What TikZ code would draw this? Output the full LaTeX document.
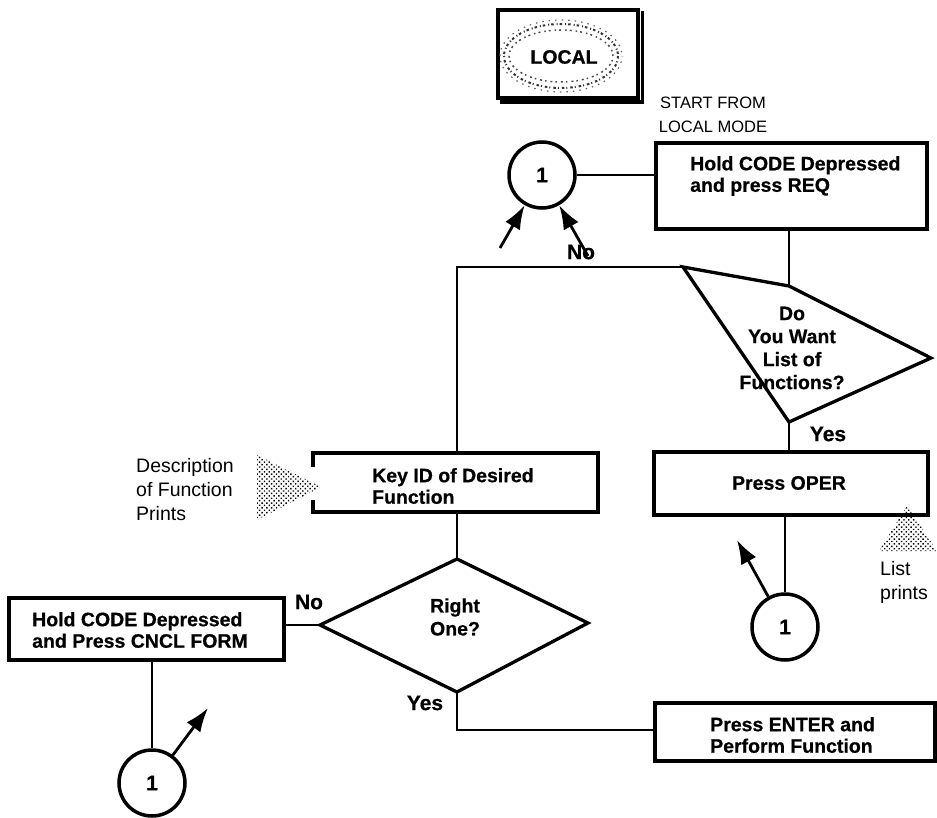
\documentclass[tikz,border=0pt]{standalone}
\usepackage{fontspec}
\setmainfont{Liberation Sans}
\newfontfamily\heavyfont[BoldFont={* Bold}, BoldFeatures={FakeBold=0.6}]{Liberation Sans}
\usetikzlibrary{arrows.meta,patterns.meta}

\tikzset{
  box/.style={draw, line width=3.2pt, inner sep=0pt},
  btxt/.style={font=\heavyfont\bfseries\fontsize{19.5}{21.5}\selectfont, align=left, inner sep=0pt},
  ctxt/.style={font=\heavyfont\bfseries\fontsize{19.5}{23}\selectfont, align=center, inner sep=0pt},
  rtxt/.style={font=\fontsize{19.5}{24}\selectfont, align=left, inner sep=0pt},
  lbl/.style={font=\heavyfont\bfseries\fontsize{21}{22}\selectfont, inner sep=0pt},
  conn/.style={line width=2.7pt},
  dia/.style={line width=3.3pt, line join=miter},
  circ/.style={draw, circle, line width=3.5pt, minimum size=66pt, inner sep=0pt,
               font=\heavyfont\bfseries\fontsize{21}{21}\selectfont},
  arr/.style={line width=2.8pt, -{Latex[length=24pt,width=17pt]}},
  halftone/.style={pattern={Dots[distance=3.4pt, radius=1pt, angle=45]}, pattern color=black}
}

\begin{document}
\begin{tikzpicture}[x=1pt, y=-1pt]
\useasboundingbox (0,0) rectangle (937,818);

% --- LOCAL key cap ---
\node[draw, line width=3.2pt, minimum width=140pt, minimum height=88pt, inner sep=0pt] (lockey) at (568,54) {};
\draw[line width=3.2pt] ([xshift=2.5pt,yshift=-3pt]lockey.north east) -- ([xshift=2.5pt,yshift=-2.5pt]lockey.south east)
      -- ([xshift=4pt,yshift=-2.5pt]lockey.south west);
\draw[line width=2pt, dash pattern=on 2.5pt off 3pt on 1pt off 2pt, black!80] (561,56) ellipse (57 and 32);
\draw[line width=1.5pt, dash pattern=on 2pt off 4pt on 1.5pt off 3pt, dash phase=2pt, black!70] (561,56) ellipse (52 and 26);
\draw[line width=1.2pt, dash pattern=on 1.5pt off 5pt, dash phase=1pt, black!60] (561,56) ellipse (61 and 36);
\node[font=\heavyfont\bfseries\fontsize{19.5}{20}\selectfont, fill=white, inner sep=1pt] (loctxt) at (564,57) {LOCAL};

% --- start label ---
\node[font=\fontsize{16.5}{24}\selectfont, align=center, inner sep=0pt] (start) at (713,115) {START FROM\\LOCAL MODE};

% --- first box ---
\node[box, minimum width=271pt, minimum height=86pt] (b1) at (791.5,186) {};
\node[btxt, anchor=west] (b1t) at (690,176) {Hold CODE Depressed\\and press REQ};

% --- connector circle at top ---
\node[circ] (c1) at (542,175) {1};
\draw[conn] (c1) -- (c1 -| b1.west);
\coordinate (a1s) at (500,248);
\coordinate (a2s) at (588,256);
\draw[arr] (a1s) -- (c1);
\draw[arr] (a2s) -- (c1);

% --- first decision ---
\coordinate (d1t) at (789,286);
\coordinate (d1r) at (931,358);
\coordinate (d1b) at (789,422);
\coordinate (d1l) at (683,267);
\draw[dia] (d1t) -- (d1r) -- (d1b) -- (d1l) -- cycle;
\node[ctxt] (d1txt) at (792,348) {Do\\You Want\\List of\\Functions?};
\draw[conn] (b1.south -| d1t) -- (d1t);

% --- Press OPER ---
\node[box, minimum width=274pt, minimum height=63pt] (oper) at (791,483.5) {};
\node[ctxt] (opertxt) at (789,483) {Press OPER};
\draw[conn] (d1b) -- (oper.north -| d1b);
\node[lbl] (yes1) at (828,434) {Yes};

% list prints marker
\fill[halftone] (907,506) -- (937,551) -- (879,551) -- cycle;
\node[rtxt, anchor=west] (lptxt) at (880,582) {List\\prints};

% --- circle under Press OPER ---
\node[circ] (c3) at (785,627) {1};
\draw[conn] (oper.south -| c3) -- (c3);
\coordinate (a3e) at (737,540);
\draw[arr] (c3) -- (a3e);

% --- No branch to Key ID ---
\coordinate (n1) at (457,267);
\draw[conn] (d1l) -- (n1) -- (457,453);
\node[lbl] (no1) at (581,252) {No};

% --- Key ID box (open left side) ---
\coordinate (kNW) at (313,453);
\coordinate (kSE) at (598,512);
\node[inner sep=0pt, minimum width=285pt, minimum height=59pt] (key) at (455.5,482.5) {};
\draw[line width=3.2pt] (313,467) -- (kNW) -- (kNW -| kSE) -- (kSE) -- (kSE -| kNW) -- (313,500);
\node[btxt, anchor=west] (keytxt) at (372,486) {Key ID of Desired\\Function};

% description marker
\fill[halftone] (257,455) -- (321,487) -- (257,520) -- cycle;
\node[rtxt, anchor=west] (desc) at (136,490) {Description\\of Function\\Prints};

% --- second decision ---
\coordinate (d2t) at (457,559);
\coordinate (d2r) at (588,623);
\coordinate (d2b) at (457,692);
\coordinate (d2l) at (320,625);
\draw[dia] (d2t) -- (d2r) -- (d2b) -- (d2l) -- cycle;
\node[ctxt] (d2txt) at (455,617) {Right\\One?};
\draw[conn] (key.south -| d2t) -- (d2t);

% --- cancel box ---
\node[box, minimum width=275pt, minimum height=62pt] (cncl) at (146.5,629) {};
\node[btxt, anchor=west] (cncltxt) at (32,630) {Hold CODE Depressed\\and Press CNCL FORM};
\draw[conn] (d2l) -- (d2l -| cncl.east);
\node[lbl] (no2) at (309,602) {No};

% --- circle under cancel box ---
\node[circ] (c4) at (152,783) {1};
\draw[conn] (cncl.south -| c4) -- (c4);
\coordinate (a4e) at (208,708);
\draw[arr] (c4) -- (a4e);

% --- Yes branch to ENTER ---
\node[box, minimum width=280pt, minimum height=58pt] (enter) at (795,732) {};
\node[btxt, anchor=west] (entertxt) at (710,735) {Press ENTER and\\Perform Function};
\coordinate (y2) at (457,730);
\draw[conn] (d2b) -- (y2) -- (y2 -| enter.west);
\node[lbl] (yes2) at (425,703) {Yes};
\end{tikzpicture}
\end{document}
